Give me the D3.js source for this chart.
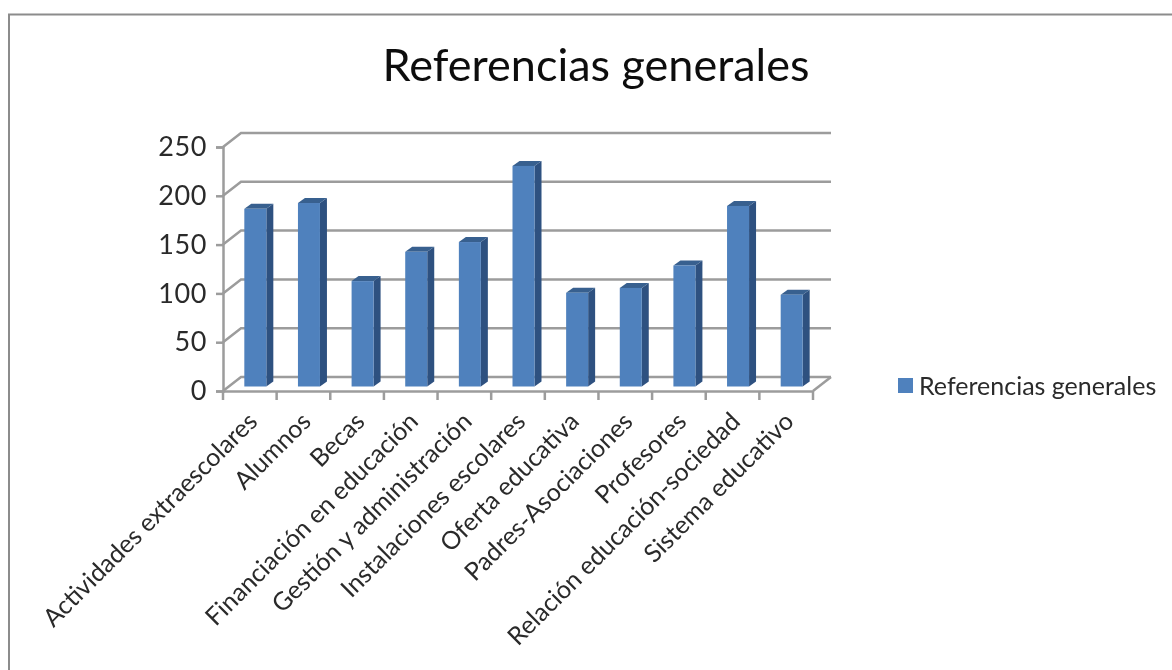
<!DOCTYPE html>
<html><head><meta charset="utf-8">
<script src="https://cdn.jsdelivr.net/npm/d3@7"></script>
<style>html,body{margin:0;padding:0;background:#fff}svg{display:block}text{font-family:Lato,"Open Sans",sans-serif}</style>
</head><body><svg id="c" width="1172" height="670"></svg>
<script>
const titleText = "Referencias generales";
const seriesName = "Referencias generales";
const categories = ["Actividades extraescolares","Alumnos","Becas","Financiación en educación","Gestión y administración","Instalaciones escolares","Oferta educativa","Padres-Asociaciones","Profesores","Relación educación-sociedad","Sistema educativo"];
const values = [182,188,108,138,148,226,96,101,124,185,94];
const yTicks = [0,50,100,150,200,250];

const svg = d3.select("#c");
const defs = svg.append("defs");
defs.append("filter").attr("id","soft").append("feGaussianBlur").attr("stdDeviation",0.5);
const root = svg.append("g").attr("filter","url(#soft)");
const grey = "#9c9c9c", ink = "#2a2a2a";
const x0=223, x1=813, y0=391, yTop=147, dx=18, dy=14;

root.append("path").attr("d","M9,670V14.5H1172").attr("fill","none").attr("stroke","#8c8c8c").attr("stroke-width",2);

const x = d3.scaleBand().domain(categories).range([x0,x1]);
const y = d3.scaleLinear().domain([0,250]).range([y0,yTop]);

root.append("text").attr("x",596).attr("y",81).attr("text-anchor","middle").attr("font-size",45).attr("fill","#111").text(titleText);

// walls and floor
const wall = root.append("g").attr("fill","none").attr("stroke",grey).attr("stroke-width",2.5);
yTicks.forEach(t=>{
  wall.append("path").attr("d",`M${x0},${y(t)}L${x0+dx},${y(t)-dy}H${x1+dx}`);
});
wall.append("path").attr("d",`M${x1+dx},${y0-dy}L${x1},${y0}`);

// axes
const ya = d3.axisLeft(y).tickValues(yTicks).tickSize(7).tickPadding(9);
const gy = root.append("g").attr("transform",`translate(${x0},0)`).call(ya);
gy.selectAll("path,line").attr("stroke",grey).attr("stroke-width",2.5);
gy.selectAll("text").attr("font-size",27).attr("letter-spacing",0.6).attr("fill",ink);

const xa = d3.axisBottom(x).tickSize(0).tickPadding(0);
const gx = root.append("g").attr("transform",`translate(0,${y0})`).call(xa);
gx.select("path").attr("stroke",grey).attr("stroke-width",2.5);
gx.selectAll("line").remove();
gx.selectAll("text").attr("font-size",25).attr("fill",ink)
  .attr("text-anchor","end").attr("dy",null)
  .attr("transform",`translate(9,32) rotate(-45)`);
const boundaries = categories.map(c=>x(c)).concat([x1]);
root.append("g").selectAll("line").data(boundaries).join("line")
  .attr("x1",d=>d).attr("x2",d=>d).attr("y1",y0).attr("y2",y0+9)
  .attr("stroke",grey).attr("stroke-width",2.5);

// bars
const bw=22, depX=7, depY=5, baseLift=4.5;
const barX = c => x(c)+x.step()/2-bw/2+5.5;
const bars = root.append("g").selectAll("g").data(categories.map((c,i)=>({c,v:values[i]}))).join("g");
const barTop = d => y(d.v)-baseLift;
const barBottom = y0-baseLift;
bars.append("path").attr("fill","#2f5180")
  .attr("d",d=>`M${barX(d.c)+bw},${barTop(d)}l${depX},${-depY}V${barBottom-depY}l${-depX},${depY}Z`);
bars.append("path").attr("fill","#38608f")
  .attr("d",d=>`M${barX(d.c)},${barTop(d)}l${depX},${-depY}h${bw}l${-depX},${depY}Z`);
bars.append("rect").attr("fill","#4f81bd")
  .attr("x",d=>barX(d.c)).attr("y",barTop).attr("width",bw).attr("height",d=>barBottom-barTop(d));

// legend
root.append("rect").attr("x",898).attr("y",378).attr("width",15).attr("height",15).attr("fill","#4f81bd");
root.append("text").attr("x",919).attr("y",395).attr("font-size",25).attr("fill",ink).text(seriesName);
</script></body></html>
